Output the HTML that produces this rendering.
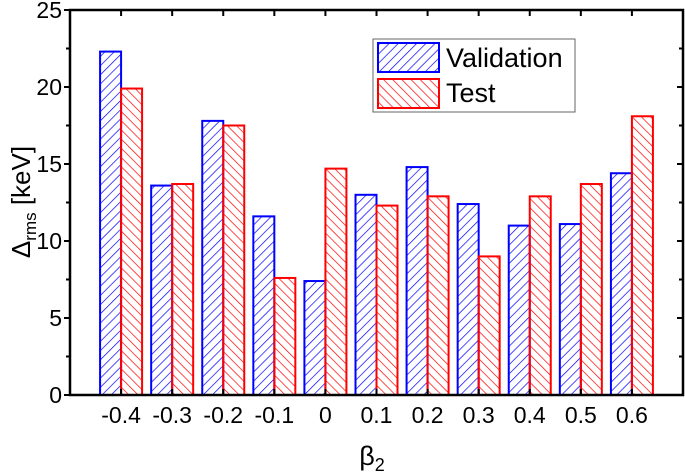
<!DOCTYPE html>
<html><head><meta charset="utf-8"><style>
html,body{margin:0;padding:0;background:#fff;}
svg{display:block;font-family:"Liberation Sans",sans-serif;}
</style></head><body>
<svg id="chart" width="685" height="474" viewBox="0 0 685 474" xmlns="http://www.w3.org/2000/svg">
<defs>
<pattern id="hb" patternUnits="userSpaceOnUse" width="6.5" height="6.5" patternTransform="rotate(45)">
<line x1="0" y1="0" x2="0" y2="6.5" stroke="#0000ff" stroke-width="1.4"/>
</pattern>
<pattern id="hr" patternUnits="userSpaceOnUse" width="6.5" height="6.5" patternTransform="rotate(-45)">
<line x1="0" y1="0" x2="0" y2="6.5" stroke="#ff0000" stroke-width="1.4"/>
</pattern>
</defs>
<g id="bars"></g>
<g id="axes"></g>
<g>
<rect x="373" y="39" width="202" height="73" fill="#fff" stroke="#666" stroke-width="1"/>
<rect x="378" y="43" width="61" height="29" fill="url(#hb)" stroke="#0000ff" stroke-width="2"/>
<text x="446" y="67" font-size="27">Validation</text>
<rect x="378" y="79" width="61" height="29" fill="url(#hr)" stroke="#ff0000" stroke-width="2"/>
<text x="446" y="102" font-size="27">Test</text>
</g>
<text transform="translate(30,202) rotate(-90)" text-anchor="middle" font-size="26">Δ<tspan font-size="17" dy="6">rms</tspan><tspan dy="-6"> [keV]</tspan></text>
<text x="372" y="465" text-anchor="middle" font-size="27">β<tspan font-size="18" dy="6">2</tspan></text>
</svg>
<script>
const categories = ["-0.4","-0.3","-0.2","-0.1","0","0.1","0.2","0.3","0.4","0.5","0.6"];
const validation = [22.3,13.6,17.8,11.6,7.4,13.0,14.8,12.4,11.0,11.1,14.4];
const test = [19.9,13.7,17.5,7.6,14.7,12.3,12.9,9.0,12.9,13.7,18.1];
const yTicks = [0,5,10,15,20,25];
const yMinor = [2.5,7.5,12.5,17.5,22.5];
const NS="http://www.w3.org/2000/svg";
const L=70,R=683,T=10,B=395,yMax=25;
const step=(R-L)/(categories.length+1);
const xc=i=>L+(i+1)*step;
const y=v=>B-(v/yMax)*(B-T);
const bw=21;
function mk(tag,attrs,parent){const e=document.createElementNS(NS,tag);for(const k in attrs)e.setAttribute(k,attrs[k]);parent.appendChild(e);return e;}
const bars=document.getElementById('bars'),axes=document.getElementById('axes');
categories.forEach((c,i)=>{
  const b1=mk('rect',{x:xc(i)-bw,y:y(validation[i]),width:bw,height:B-y(validation[i]),fill:'url(#hb)',stroke:'#0000ff','stroke-width':2},bars);
  
  
  const b2=mk('rect',{x:xc(i),y:y(test[i]),width:bw,height:B-y(test[i]),fill:'url(#hr)',stroke:'#ff0000','stroke-width':2},bars);
  
  
  const t=mk('text',{x:xc(i),y:B+28,'text-anchor':'middle','font-size':23},axes);
  t.textContent=c;
  
  
  mk('line',{x1:xc(i),x2:xc(i),y1:B,y2:B-6,stroke:'#000','stroke-width':2},axes);
  mk('line',{x1:xc(i),x2:xc(i),y1:T,y2:T+6,stroke:'#000','stroke-width':2},axes);
});
yTicks.forEach(v=>{
  mk('line',{x1:L,x2:L-6,y1:y(v),y2:y(v),stroke:'#000','stroke-width':2},axes);
  mk('line',{x1:R,x2:R-6,y1:y(v),y2:y(v),stroke:'#000','stroke-width':2},axes);
  const t=mk('text',{x:L-8,y:y(v)+8,'text-anchor':'end','font-size':23},axes);
  t.textContent=v;
  
  
});
yMinor.forEach(v=>{
  mk('line',{x1:L,x2:L-4,y1:y(v),y2:y(v),stroke:'#000','stroke-width':2},axes);
  mk('line',{x1:R,x2:R-4,y1:y(v),y2:y(v),stroke:'#000','stroke-width':2},axes);
});
const f=mk('rect',{x:L,y:T,width:R-L,height:B-T,fill:'none',stroke:'#000','stroke-width':2.5},axes);


</script>
</body></html>
